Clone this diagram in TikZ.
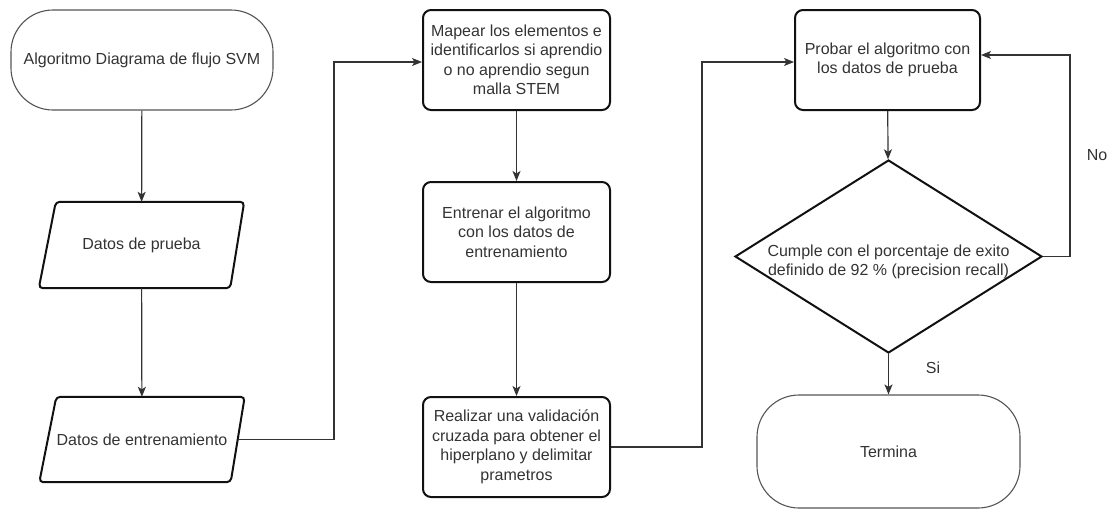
\documentclass[tikz,border=0pt]{standalone}
\usepackage{fontspec}
\setmainfont{Liberation Sans}
\usetikzlibrary{shapes.geometric,arrows.meta,calc}
\definecolor{txt}{HTML}{333333}
\definecolor{ln}{HTML}{333333}
\definecolor{bx}{HTML}{111111}
\definecolor{term}{HTML}{555555}
\tikzset{
  lbl/.style={font=\fontsize{16}{19.5}\selectfont, text=txt, align=center},
  termbox/.style={lbl, draw=term, line width=1.1pt, rectangle, rounded corners=42pt, inner sep=0pt},
  procbox/.style={lbl, draw=bx, line width=2pt, rectangle, rounded corners=8pt, minimum width=187pt, minimum height=100pt, inner sep=0pt},
  iotext/.style={lbl, rectangle, minimum width=205pt, inner sep=0pt},
  ioframe/.style={draw=bx, line width=2pt, rounded corners=4pt},
  decbox/.style={lbl, draw=bx, line width=2pt, diamond, minimum width=307pt, minimum height=193pt, inner sep=0pt, aspect=1.6},
  arr/.style={draw=ln, line width=1.2pt, -{Stealth[length=10pt,width=8pt,inset=2.5pt]}},
}
\begin{document}
\begin{tikzpicture}[x=1pt,y=-1pt]
\useasboundingbox (0,0) rectangle (1108,509);
\node[termbox, minimum width=262pt, minimum height=100pt] (start) at (142,60) {Algoritmo Diagrama de flujo SVM};
\node[iotext, minimum height=86pt] (dp) at (141.5,245) {Datos de prueba};
\node[iotext, minimum height=85pt] (de) at (142,439.5) {Datos de entrenamiento};
\foreach \n in {dp,de}{
  \draw[ioframe] ($(\n.north west)+(17,0)$) -- (\n.north east) -- ($(\n.south east)+(-14,0)$) -- (\n.south west) -- cycle;
}
\node[procbox] (map) at (516.5,60) {Mapear los elementos e\\identificarlos si aprendio\\o no aprendio segun\\malla STEM};
\node[procbox] (ent) at (516.5,232) {Entrenar el algoritmo\\con los datos de\\entrenamiento};
\node[procbox] (rea) at (516.5,447) {Realizar una validación\\cruzada para obtener el\\hiperplano y delimitar\\prametros};
\node[procbox, minimum width=185pt] (pro) at (887.5,60) {Probar el algoritmo con\\los datos de prueba};
\node[decbox] (dia) at (888.5,256.5) {};
\node[lbl] (diat) at (888.5,262) {Cumple con el porcentaje de exito\\definido de 92 \% (precision recall)};
\node[termbox, minimum width=263pt, minimum height=113pt] (fin) at (888.5,451.5) {Termina};
\coordinate (c0) at ($(de.east)+(-7,0)$);
\coordinate (c1) at (334,62);
\coordinate (c2) at (702,62);
\coordinate (c3) at (1070,55);
\draw[arr] (start) -- (dp);
\draw[arr] (dp) -- (de);
\draw[arr] (c0) -| (c1) -- (c1 -| map.west);
\draw[arr] (map) -- (ent);
\draw[arr] (ent) -- (rea);
\draw[arr] (rea.east) -| (c2) -- (c2 -| pro.west);
\draw[arr] (pro) -- (dia);
\draw[arr] (dia.east) -| (c3) -- (c3 -| pro.east);
\draw[arr] (dia) -- (fin);
\node[lbl] (no) at (1097,155) {No};
\node[lbl] (si) at (933,368) {Si};
\end{tikzpicture}
\end{document}
